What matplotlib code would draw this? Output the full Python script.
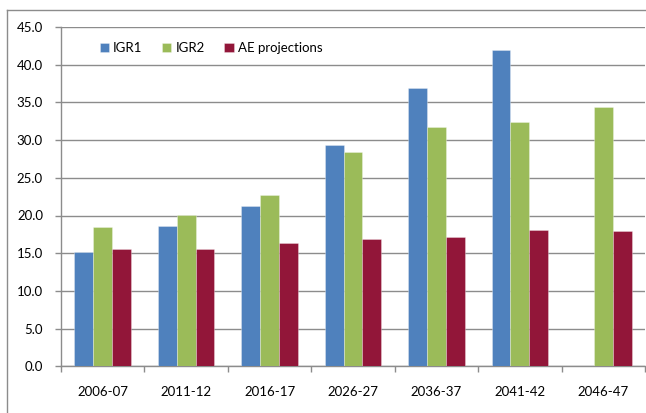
import matplotlib
matplotlib.use("Agg")
import matplotlib.pyplot as plt
import numpy as np
from matplotlib.lines import Line2D

categories = ["2006-07", "2011-12", "2016-17", "2026-27", "2036-37", "2041-42", "2046-47"]
igr1 = [15.1, 18.6, 21.2, 29.3, 36.9, 42.0, np.nan]
igr2 = [18.5, 20.1, 22.7, 28.4, 31.8, 32.4, 34.4]
ae_proj = [15.5, 15.5, 16.3, 16.9, 17.2, 18.1, 18.0]
series_names = ["IGR1", "IGR2", "AE projections"]
colors = ["#4F81BD", "#9BBB59", "#921639"]
yticks = np.arange(0, 45.1, 5)

plt.rcParams['font.family'] = ['Lato', 'DejaVu Sans']

W, H = 646, 413
fig = plt.figure(figsize=(W / 100, H / 100), dpi=100)
ax = fig.add_axes([61 / W, (H - 366.3) / H, (645 - 61) / W, (366.3 - 27) / H])

# outer chart border (only top and left visible; cut off at right and bottom)
fig.lines.append(Line2D([7 / W, 1.0], [(H - 10) / H] * 2, transform=fig.transFigure,
                        color="#8c8c8c", linewidth=1.0))
fig.lines.append(Line2D([7 / W] * 2, [0, (H - 10) / H], transform=fig.transFigure,
                        color="#8c8c8c", linewidth=1.0))

x = np.arange(len(categories))
bw = 0.226
for i, (vals, name, c) in enumerate(zip([igr1, igr2, ae_proj], series_names, colors)):
    ax.bar(x + (i - 1) * bw, vals, width=bw, color=c, label=name,
           edgecolor=(1, 1, 1, 0.35), linewidth=0.6, zorder=3)

ax.set_xlim(-0.5, len(categories) - 0.5)
ax.set_ylim(0, 45)
ax.set_yticks(yticks)
ax.set_yticklabels([f"{v:.1f}" for v in yticks], fontsize=9.5)
ax.yaxis.grid(True, color="#8c8c8c", linewidth=1.0, zorder=0)
ax.set_axisbelow(True)

ax.set_xticks(x)
ax.set_xticklabels(categories, fontsize=9.5)
ax.tick_params(axis='x', length=0, pad=14)
ax.set_xticks(np.arange(-0.5, len(categories)), minor=True)
ax.tick_params(axis='x', which='minor', length=4, color="#8c8c8c", width=1)
ax.tick_params(axis='y', length=4, color="#8c8c8c", width=1, pad=9)

for s in ["top", "right"]:
    ax.spines[s].set_visible(False)
for s in ["left", "bottom"]:
    ax.spines[s].set_color("#8c8c8c")
    ax.spines[s].set_linewidth(1.0)

leg = ax.legend(loc="upper left", bbox_to_anchor=(0.046, 0.99), ncol=3, frameon=False,
                fontsize=9.5, handlelength=0.7, handleheight=0.7, handletextpad=0.3,
                columnspacing=1.5)

fig.savefig("out.png", dpi=100)
